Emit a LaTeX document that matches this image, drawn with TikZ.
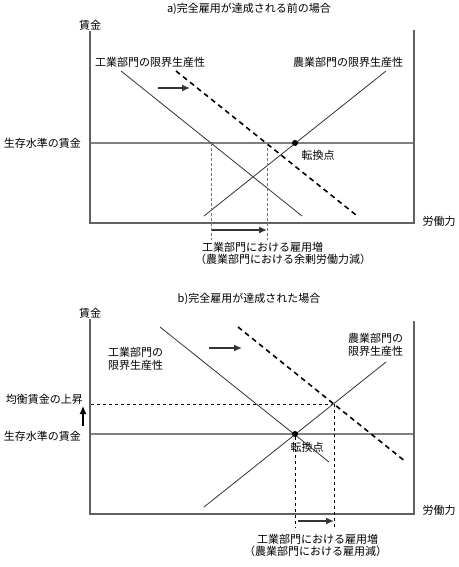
\documentclass[tikz,border=0pt]{standalone}
\usepackage{fontspec}
\setmainfont{Noto Sans CJK JP}
\usetikzlibrary{arrows.meta}
\begin{document}
\begin{tikzpicture}[x=1pt,y=-1pt,
  lbl/.style={inner sep=0pt,font=\fontsize{11pt}{13pt}\selectfont},
  axisline/.style={draw=black!62,line width=1.2pt},
  subsist/.style={draw=black!50,line width=2pt},
  mpl/.style={draw=black!80,line width=0.8pt},
  shifted/.style={draw=black,line width=1.6pt,dash pattern=on 5pt off 4pt},
  guidea/.style={draw=black!55,line width=1pt,dash pattern=on 3pt off 2pt},
  guideb/.style={draw=black,line width=0.8pt,dash pattern=on 3pt off 3pt},
  shiftarrow/.style={draw=black!80,line width=1.5pt,-{Latex[length=8pt,width=7pt]}},
  dotst/.style={circle,fill=black,inner sep=0pt,minimum size=6pt}]
\useasboundingbox (0,0) rectangle (458,567);
% ---------------- panel a ----------------
\node[lbl] (ta) at (249,9) {a)完全雇用が達成される前の場合};
\node[lbl] (wa) at (90,25) {賃金};
\coordinate (aTL) at (90,31);
\coordinate (aBL) at (90,223);
\coordinate (aBR) at (414,223);
\coordinate (aTR) at (414,30);
\draw[axisline] (aTL) -- (aBL) -- (aBR) -- (aTR);
\coordinate (aS1) at (91,143);
\coordinate (aS2) at (413,143);
\draw[subsist] (aS1) -- (aS2);
\node[lbl,anchor=east] (sa) at (81,143) {生存水準の賃金};
\node[lbl] (ia) at (150,62) {工業部門の限界生産性};
\node[lbl] (ga) at (348,62) {農業部門の限界生産性};
\coordinate (aI1) at (121,71);
\coordinate (aI2) at (302,216);
\draw[mpl] (aI1) -- (aI2);
\coordinate (aD1) at (176,71);
\coordinate (aD2) at (356,215);
\draw[shifted] (aD1) -- (aD2);
\coordinate (aG1) at (386,71);
\coordinate (aG2) at (204,216);
\draw[mpl] (aG1) -- (aG2);
\coordinate (aA1) at (158,88);
\coordinate (aA2) at (190,88);
\draw[shiftarrow] (aA1) -- (aA2);
\node[dotst] (pa) at (295,143) {};
\node[lbl] (ka) at (318,155) {転換点};
\coordinate (aV1t) at (211,143);
\coordinate (aV1b) at (211,240);
\coordinate (aV2t) at (267,143);
\coordinate (aV2b) at (267,240);
\draw[guidea] (aV1t) -- (aV1b);
\draw[guidea] (aV2t) -- (aV2b);
\coordinate (aE1) at (212,230);
\coordinate (aE2) at (267,230);
\draw[shiftarrow] (aE1) -- (aE2);
\node[lbl] (la) at (439,221) {労働力};
\node[lbl,anchor=west] (ea1) at (202,247) {工業部門における雇用増};
\node[lbl,anchor=west] (ea2) at (195,259) {（農業部門における余剰労働力減）};
% ---------------- panel b ----------------
\node[lbl] (tb) at (249,299) {b)完全雇用が達成された場合};
\node[lbl] (wb) at (90,313) {賃金};
\coordinate (bTL) at (90,319);
\coordinate (bBL) at (90,514);
\coordinate (bBR) at (414,514);
\coordinate (bTR) at (414,321);
\draw[axisline] (bTL) -- (bBL) -- (bBR) -- (bTR);
\coordinate (bS1) at (91,434);
\coordinate (bS2) at (413,434);
\draw[subsist] (bS1) -- (bS2);
\coordinate (bQ1) at (91,404);
\coordinate (bQ2) at (333,404);
\draw[guideb] (bQ1) -- (bQ2);
\node[lbl,anchor=east] (sb) at (81,436) {生存水準の賃金};
\node[lbl,anchor=east] (ub) at (83,399) {均衡賃金の上昇};
\coordinate (bU1) at (83,426);
\coordinate (bU2) at (83,406);
\draw[black,line width=1.2pt,-{Latex[length=8pt,width=7pt]}] (bU1) -- (bU2);
\node[lbl,anchor=west,align=left] (ib) at (108,359) {工業部門の\\限界生産性};
\node[lbl,anchor=west,align=left] (gb) at (348,345) {農業部門の\\限界生産性};
\coordinate (bI1) at (160,327);
\coordinate (bI2) at (329,462);
\draw[mpl] (bI1) -- (bI2);
\coordinate (bD1) at (238,327);
\coordinate (bD2) at (406,462);
\draw[shifted] (bD1) -- (bD2);
\coordinate (bG1) at (386,362);
\coordinate (bG2) at (204,507);
\draw[mpl] (bG1) -- (bG2);
\coordinate (bA1) at (209,348);
\coordinate (bA2) at (242,348);
\draw[shiftarrow] (bA1) -- (bA2);
\node[dotst] (pb) at (295,434) {};
\node[lbl] (kb) at (307,447) {転換点};
\coordinate (bV1t) at (295,434);
\coordinate (bV1b) at (295,528);
\coordinate (bV2t) at (334,404);
\coordinate (bV2b) at (334,528);
\draw[guideb] (pb) -- (bV1b);
\draw[guideb] (bV2t) -- (bV2b);
\coordinate (bE1) at (298,521);
\coordinate (bE2) at (334,521);
\draw[shiftarrow] (bE1) -- (bE2);
\node[lbl] (lb) at (439,510) {労働力};
\node[lbl,anchor=west] (eb1) at (257,539) {工業部門における雇用増};
\node[lbl,anchor=west] (eb2) at (244,551) {（農業部門における雇用減）};
\end{tikzpicture}
\end{document}
